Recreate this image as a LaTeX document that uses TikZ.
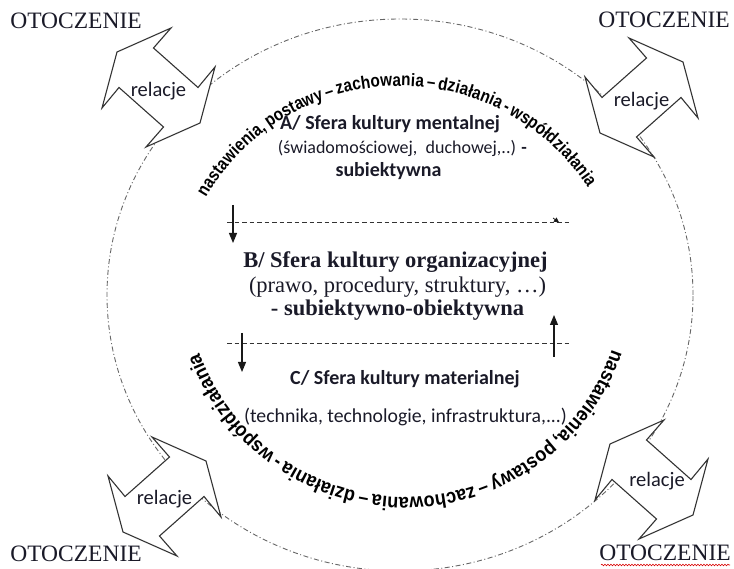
\documentclass[tikz,border=0pt]{standalone}
\usepackage{fontspec}
\setmainfont{Liberation Serif}
\newfontfamily\calib{Carlito}
\newfontfamily\arcf{Liberation Sans}[FakeStretch=0.85,WordSpace=0.6]
\newfontfamily\arcg{Liberation Sans}[FakeStretch=0.9,WordSpace=0.6]
\usetikzlibrary{decorations.text,decorations.pathmorphing,arrows.meta}
\definecolor{txt}{HTML}{1A1A28}
\begin{document}
\begin{tikzpicture}[x=1pt,y=1pt,
  orbit/.style={draw=black!60,line width=0.9pt,dash pattern=on 5pt off 2.5pt on 1pt off 2.5pt},
  sepline/.style={draw=black!80,line width=0.9pt,dash pattern=on 4.5pt off 3pt},
  varrow/.style={draw=black!90,line width=1.1pt,-{Triangle[length=10pt,width=8pt]}},
  relarrow/.style={fill=white,draw=black!80,line width=1.1pt,line join=miter},
  relt/.style={font=\calib\fontsize{20.5}{20.5}\selectfont,text=txt,inner sep=0pt},
  otoc/.style={font=\fontsize{23.5}{23.5}\selectfont,text=txt,anchor=base,inner sep=0pt},
  cbold/.style={font=\calib\bfseries\fontsize{20}{20}\selectfont,text=txt,anchor=base,inner sep=0pt},
  creg/.style={font=\calib\fontsize{18}{18}\selectfont,text=txt,anchor=base,inner sep=0pt},
  sbold/.style={font=\bfseries\fontsize{22.5}{22.5}\selectfont,text=txt,anchor=base,inner sep=0pt},
  sreg/.style={font=\fontsize{22.5}{22.5}\selectfont,text=txt,anchor=base,inner sep=0pt},
  relpic/.pic={\draw[relarrow] (12.5,59.5) -- (-41.5,35.5) -- (-56.5,-20.5) -- (-39.5,0) -- (5,-39.5) -- (-12.5,-59.5) -- (41.5,-35.5) -- (56.5,20.5) -- (39.5,0) -- (-5,39.5) -- cycle;}
]
\useasboundingbox (0,0) rectangle (734,568);
% orbit
\draw[orbit] (400,273) ellipse [x radius=293, y radius=276];
% relation arrows
\path (158.5,480.5) pic {relpic};
\path (641.5,470.5) pic[xscale=-1] {relpic};
\path (164.5,71.5) pic[xscale=-1] {relpic};
\path (651.5,88.5) pic {relpic};
\node[relt] (rTL) at (158.5,477) {relacje};
\node[relt] (rTR) at (641.5,467) {relacje};
\node[relt] (rBL) at (164.5,69) {relacje};
\node[relt] (rBR) at (657,87) {relacje};
% OTOCZENIE
\node[otoc] (oTL) at (76,539) {OTOCZENIE};
\node[otoc] (oTR) at (664,540) {OTOCZENIE};
\node[otoc] (oBL) at (76,6) {OTOCZENIE};
\node[otoc] (oBR) at (665,8) {OTOCZENIE};
\coordinate (sq1) at (601,3);
\coordinate (sq2) at (730,3);
\draw[red!85!black,line width=0.6pt,decorate,decoration={snake,amplitude=0.8pt,segment length=3pt}] (sq1) -- (sq2);
% arc texts
\path[decorate,decoration={text along path,text align={fit to path},
  text={|\arcf\bfseries\fontsize{18}{18}\selectfont|nastawienia, postawy – zachowania – działania - współdziałania}}]
  (400,258) ++(150:224) arc[start angle=150,end angle=33,radius=224];
\path[decorate,decoration={text along path,text align={fit to path},
  text={|\arcg\bfseries\fontsize{20}{20}\selectfont|nastawienia, postawy – zachowania – działania - współdziałania}}]
  (405,290) ++(-19:219) arc[start angle=-19,end angle=-160,radius=219];
% sphere A
\node[cbold] (a1) at (390,438.5) {A/ Sfera kultury mentalnej};
\node[creg] (a2) at (402.5,414) {(świadomościowej,\ \ duchowej,..) \textbf{-}};
\node[cbold] (a3) at (388.5,391.5) {subiektywna};
% sphere B
\node[sbold] (b1) at (395.5,300) {B/ Sfera kultury organizacyjnej};
\node[sreg] (b2) at (397.5,275) {(prawo, procedury, struktury, …)};
\node[sbold] (b3) at (397.5,252) {- subiektywno-obiektywna};
% sphere C
\node[cbold] (c1) at (405,183) {C/ Sfera kultury materialnej};
\node[cbold,font=\calib\fontsize{19.75}{19.75}\selectfont] (c2) at (405.5,145) {(technika, technologie, infrastruktura,...)};
% separators
\coordinate (d1l) at (227,345.5); \coordinate (d1r) at (571,345.5);
\coordinate (d2l) at (227,225); \coordinate (d2r) at (571,225);
\draw[sepline] (d1l) -- (d1r);
\draw[sepline] (d2l) -- (d2r);
% vertical arrows
\coordinate (p1s) at (233,363); \coordinate (p1e) at (233,325);
\coordinate (p2s) at (242,235); \coordinate (p2e) at (242,196);
\coordinate (p3s) at (554,211); \coordinate (p3e) at (554,253);
\coordinate (p4s) at (553,350); \coordinate (p4e) at (559,345.5);
\draw[varrow] (p1s) -- (p1e);
\draw[varrow] (p2s) -- (p2e);
\draw[varrow] (p3s) -- (p3e);
\draw[draw=black!90,line width=0.8pt,-{Triangle[length=5pt,width=5pt]}] (p4s) -- (p4e);
\end{tikzpicture}
\end{document}
